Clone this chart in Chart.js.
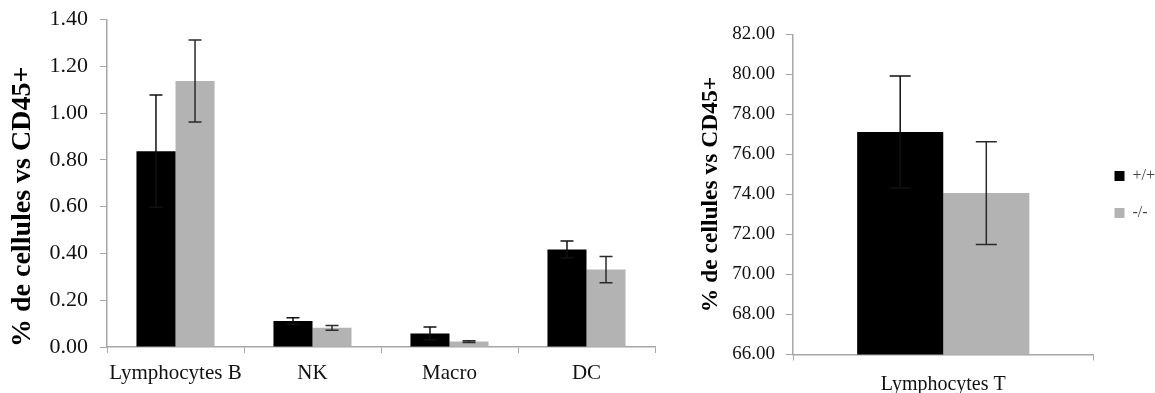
<!DOCTYPE html>
<html>
<head>
<meta charset="utf-8">
<script src="https://cdn.jsdelivr.net/npm/chart.js@4.4.1/dist/chart.umd.min.js"></script>
<style>
  html, body { margin: 0; padding: 0; background: #ffffff; }
  body { width: 1155px; height: 393px; position: relative; overflow: hidden; }
  .box { position: absolute; top: 0; height: 393px; }
  #leftBox { left: 0; width: 672px; }
  #rightBox { left: 690px; width: 475px; }
</style>
</head>
<body>
<div class="box" id="leftBox"><canvas id="left"></canvas></div>
<div class="box" id="rightBox"><canvas id="right"></canvas></div>
<script>
// ---- data ----
const leftCategories = ["Lymphocytes B", "NK", "Macro", "DC"];
const wtLeft = [0.837, 0.111, 0.058, 0.417];
const wtLeftErr = [0.240, 0.014, 0.027, 0.036];
const koLeft = [1.137, 0.082, 0.023, 0.331];
const koLeftErr = [0.175, 0.010, 0.004, 0.056];
const leftTicks = { min: 0, max: 1.4, step: 0.2 };

const rightCategories = ["Lymphocytes T"];
const wtRight = [77.13];
const wtRightErr = [2.80];
const koRight = [74.07];
const koRightErr = [2.57];
const rightTicks = { min: 66, max: 82, step: 2 };

const seriesNames = ["+/+", "-/-"];
const yTitle = "% de cellules vs CD45+";

const BLACK = "#000000";
const GREY = "#b3b3b3";
const AXIS = "#a6a6a6";
const SERIF = "'Liberation Serif', 'Times New Roman', serif";

const errorBarPlugin = {
  id: "errorBars",
  afterDatasetsDraw(chart, args, opts) {
    const ctx = chart.ctx;
    const yScale = chart.scales.y;
    ctx.save();
    ctx.lineWidth = 1.5;
    chart.data.datasets.forEach((ds, i) => {
      const meta = chart.getDatasetMeta(i);
      if (meta.hidden) return;
      ctx.strokeStyle = ds.errorColor;
      meta.data.forEach((bar, j) => {
        const v = ds.data[j], e = ds.errors[j];
        const yTop = yScale.getPixelForValue(v + e);
        const yBot = yScale.getPixelForValue(v - e);
        const half = opts.cap / 2;
        ctx.beginPath();
        ctx.moveTo(bar.x, yTop); ctx.lineTo(bar.x, yBot);
        ctx.moveTo(bar.x - half, yTop); ctx.lineTo(bar.x + half, yTop);
        ctx.moveTo(bar.x - half, yBot); ctx.lineTo(bar.x + half, yBot);
        ctx.stroke();
      });
    });
    ctx.restore();
  }
};

function makeChart(id, cats, wt, wtErr, ko, koErr, tk, cfg) {
  return new Chart(document.getElementById(id), {
    type: "bar",
    data: {
      labels: cats,
      datasets: [
        { label: seriesNames[0], data: wt, errors: wtErr, errorColor: "#111111",
          backgroundColor: BLACK, borderWidth: 0,
          categoryPercentage: cfg.catPct, barPercentage: 1.0 },
        { label: seriesNames[1], data: ko, errors: koErr, errorColor: "#2a2a2a",
          backgroundColor: GREY, borderWidth: 0,
          categoryPercentage: cfg.catPct, barPercentage: 1.0 }
      ]
    },
    options: {
      responsive: true,
      maintainAspectRatio: false,
      animation: false,
      events: [],
      layout: { padding: cfg.padding },
      plugins: {
        legend: cfg.legend,
        tooltip: { enabled: false },
        errorBars: { cap: cfg.cap }
      },
      scales: {
        x: {
          grid: { offset: true, drawOnChartArea: false, color: AXIS, tickLength: 6, lineWidth: 1 },
          border: { color: AXIS, width: 1.5 },
          ticks: { color: "#111", font: { family: SERIF, size: cfg.catSize }, padding: cfg.xPad, maxRotation: 0 },
          afterFit(s) { s.height = cfg.xHeight; }
        },
        y: {
          min: tk.min, max: tk.max,
          grid: { drawOnChartArea: false, color: AXIS, tickLength: 7, lineWidth: 1 },
          border: { color: AXIS, width: 1.5 },
          ticks: {
            stepSize: tk.step, color: "#111", padding: cfg.yPad,
            font: { family: SERIF, size: cfg.tickSize },
            callback: v => Number(v).toFixed(2)
          },
          title: {
            display: true, text: yTitle, color: "#000", align: cfg.titleAlign,
            font: { family: SERIF, size: cfg.titleSize, weight: "bold" },
            padding: { top: 0, bottom: 0 }
          },
          afterFit(s) { s.width = cfg.yWidth; s.paddingTop = 0; s.paddingBottom = 0; }
        }
      }
    },
    plugins: [errorBarPlugin]
  });
}

makeChart("left", leftCategories, wtLeft, wtLeftErr, koLeft, koLeftErr, leftTicks, {
  catPct: 0.57, cap: 13, padding: { top: 19.5, bottom: 0, left: 6, right: 17 },
  legend: { display: false }, xHeight: 46, xPad: 8, yWidth: 101, tickSize: 22, yPad: 12,
  catSize: 21, titleSize: 28, titleAlign: "start"
});

makeChart("right", rightCategories, wtRight, wtRightErr, koRight, koRightErr, rightTicks, {
  catPct: 0.573, cap: 21, padding: { top: 34.5, bottom: 0, left: 7, right: 0 },
  legend: {
    display: true, position: "right", align: "center", fullSize: false,
    labels: { boxWidth: 10, boxHeight: 10, padding: 21, color: "#444",
      font: { family: SERIF, size: 16 } }
  },
  xHeight: 38.5, xPad: 12, yWidth: 96, tickSize: 19, yPad: 11,
  catSize: 20, titleSize: 23.5, titleAlign: "center"
});
</script>
</body>
</html>
